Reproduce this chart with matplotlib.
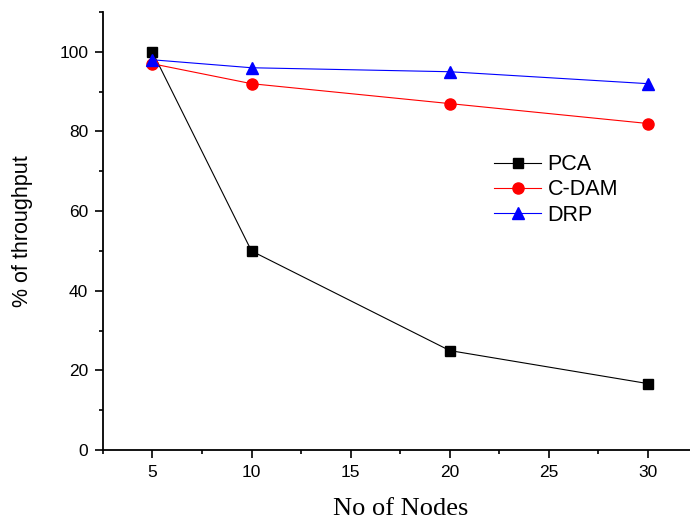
import matplotlib.pyplot as plt
from matplotlib.ticker import MultipleLocator

nodes = [5, 10, 20, 30]
pca = [100, 50, 25, 16.7]
cdam = [97, 92, 87, 82]
drp = [98, 96, 95, 92]

fig = plt.figure(figsize=(6.9, 5.21), dpi=100)
ax = fig.add_axes([0.149, 0.136, 0.862, 0.841])

ax.plot(nodes, pca, color='black', marker='s', markersize=7, lw=0.8, label='PCA')
ax.plot(nodes, cdam, color='red', marker='o', markersize=8, lw=0.8, label='C-DAM')
ax.plot(nodes, drp, color='blue', marker='^', markersize=8.5, lw=0.8, label='DRP')

ax.set_xlim(2.5, 32.5)
ax.set_ylim(0, 110)
ax.xaxis.set_major_locator(MultipleLocator(5))
ax.xaxis.set_minor_locator(MultipleLocator(2.5))
ax.yaxis.set_major_locator(MultipleLocator(20))
ax.yaxis.set_minor_locator(MultipleLocator(10))
ax.set_yticks([0, 20, 40, 60, 80, 100])

for s in ['top', 'right']:
    ax.spines[s].set_visible(False)
for s in ['left', 'bottom']:
    ax.spines[s].set_linewidth(1.3)

ax.tick_params(which='major', direction='out', length=6, width=1.2,
               labelsize=12.5, pad=4.5)
ax.tick_params(which='minor', direction='out', length=3, width=1.2)
for lab in ax.get_xticklabels() + ax.get_yticklabels():
    lab.set_fontfamily('Liberation Sans')

ax.set_xlabel('No of Nodes', fontfamily='Liberation Serif', fontsize=19, labelpad=13)
ax.set_ylabel('% of throughput', fontfamily='Liberation Sans', fontsize=15.5, labelpad=19)

ax.legend(loc='upper left', bbox_to_anchor=(0.625, 0.72), frameon=False,
          prop={'family': 'Liberation Sans', 'size': 15.5}, handlelength=2.2,
          labelspacing=0.2, handletextpad=0.3)

fig.savefig('out.png', dpi=100)
